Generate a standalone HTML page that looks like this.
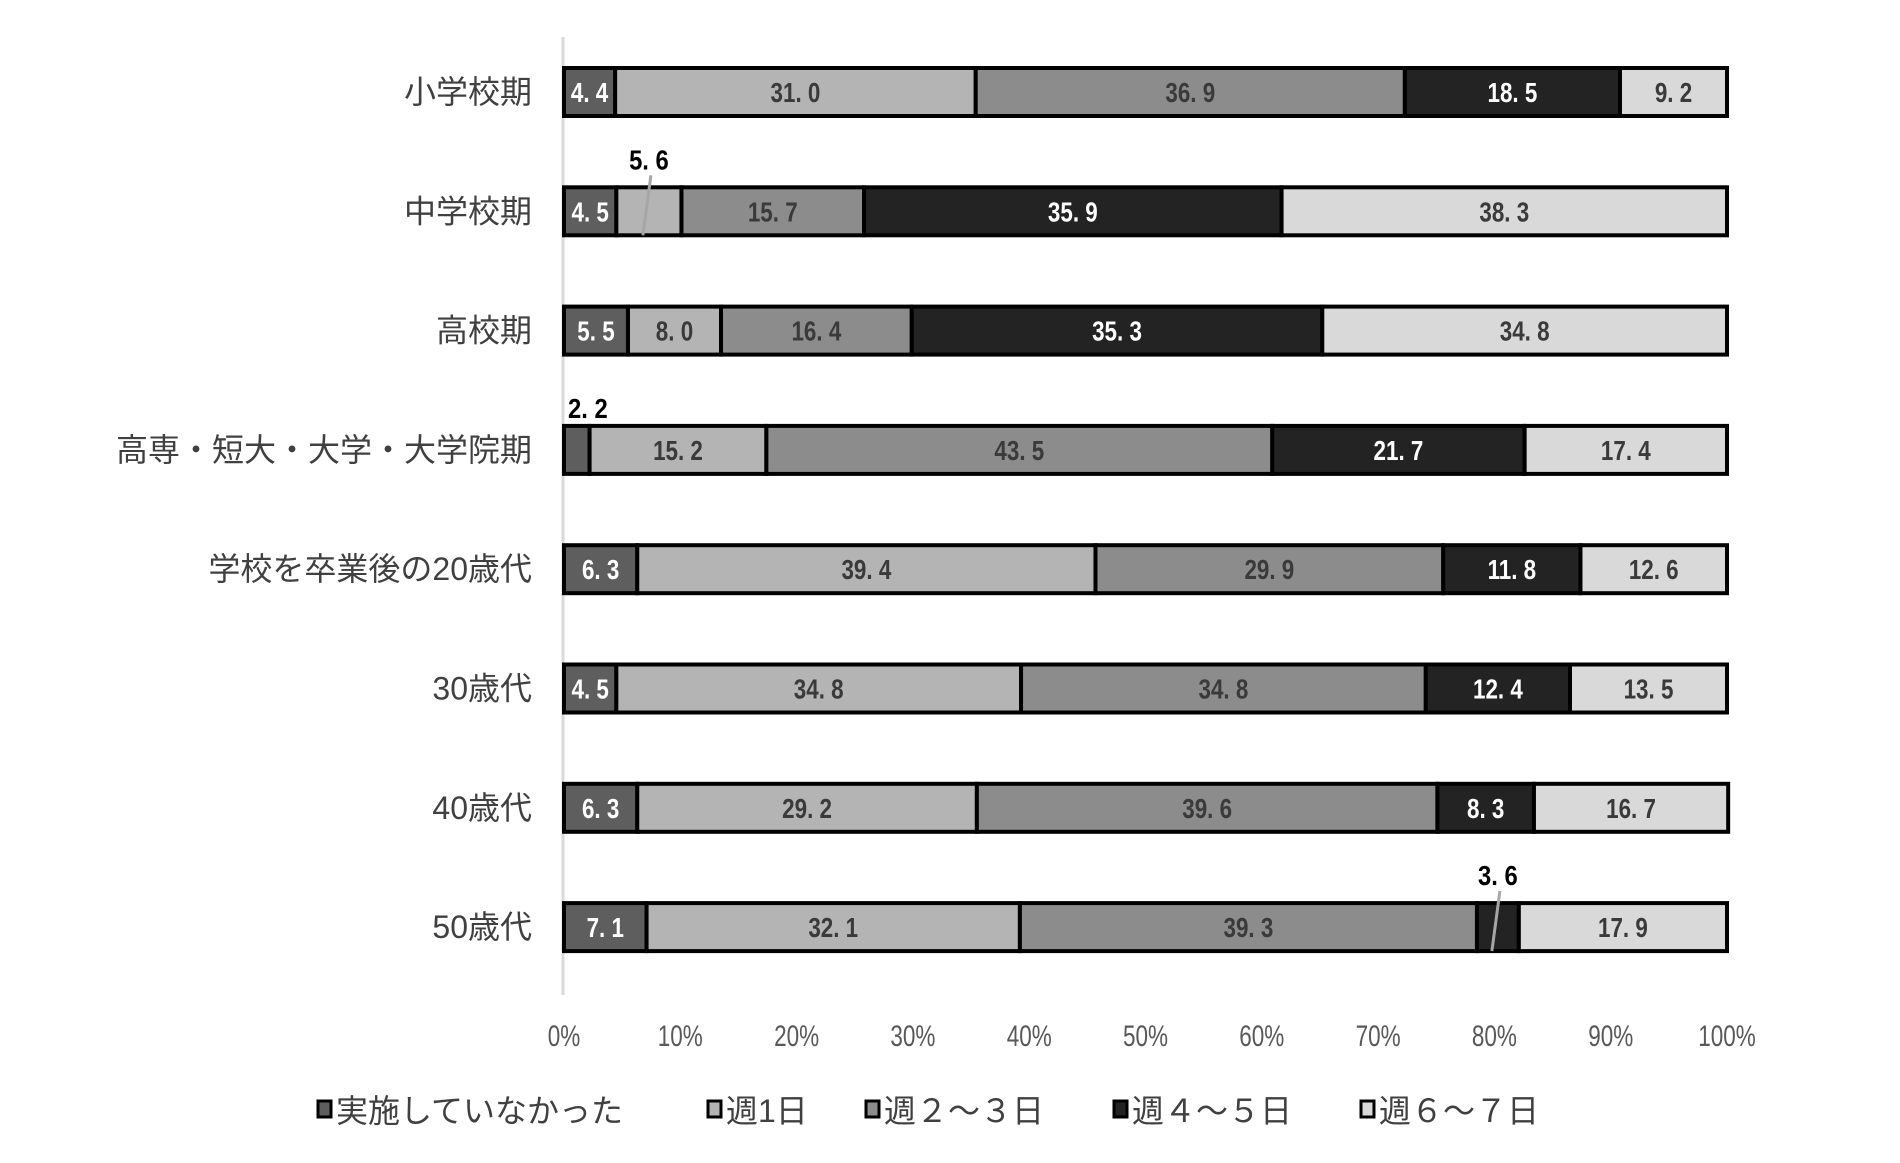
<!DOCTYPE html>
<html><head><meta charset="utf-8"><style>
body{margin:0;background:#fff}
svg{display:block}
text{font-family:"Liberation Sans","Noto Sans CJK JP",sans-serif}
</style></head><body>
<svg id="chart" width="1900" height="1163" viewBox="0 0 1900 1163" xmlns="http://www.w3.org/2000/svg"></svg>
<script>
const categories=["小学校期","中学校期","高校期","高専・短大・大学・大学院期","学校を卒業後の20歳代","30歳代","40歳代","50歳代"];
const seriesNames=["実施していなかった","週1日","週２～３日","週４～５日","週６～７日"];
const s0=[4.4,4.5,5.5,2.2,6.3,4.5,6.3,7.1];
const s1=[31.0,5.6,8.0,15.2,39.4,34.8,29.2,32.1];
const s2=[36.9,15.7,16.4,43.5,29.9,34.8,39.6,39.3];
const s3=[18.5,35.9,35.3,21.7,11.8,12.4,8.3,3.6];
const s4=[9.2,38.3,34.8,17.4,12.6,13.5,16.7,17.9];
const tickLabels=["0%","10%","20%","30%","40%","50%","60%","70%","80%","90%","100%"];
const callouts=[[1,1],[3,0],[7,3]];
const series=[s0,s1,s2,s3,s4];
const fills=["#5e5e5e","#b4b4b4","#8c8c8c","#232323","#d9d9d9"];
const txt=["#ffffff","#3a3a3a","#3a3a3a","#ffffff","#3a3a3a"];
const X0=564,X1=1727,Y0=92,DY=119.3,BH=48;
const xs=v=>X0+(X1-X0)*v/100;
const yc=i=>Y0+i*DY;
const svg=document.getElementById('chart');
const NS="http://www.w3.org/2000/svg";
function mk(tag,a,p){const e=document.createElementNS(NS,tag);for(const k in a)e.setAttribute(k,a[k]);(p||svg).appendChild(e);return e;}
function narrowText(str,x,y,size,fill,anchor,sx,weight){
  const t=mk('text',{transform:`translate(${x},${y}) scale(${sx},1)`,'font-size':size,fill:fill,'text-anchor':anchor,'font-weight':weight||'normal'});
  t.textContent=str;return t;}
// axis
const ax=mk('line',{x1:X0-1,y1:37,x2:X0-1,y2:995,stroke:'#d9d9d9','stroke-width':3});

categories.forEach((c,i)=>{
  const t=mk('text',{x:532,y:yc(i)+11,'font-size':32,fill:'#404040','text-anchor':'end'});
  t.textContent=c;
  
  const g=mk('g',{});
  
  let cum=0;
  series.forEach((s,k)=>{
    const v=s[i];const a=xs(cum),b=xs(cum+v);cum+=v;
    const r=mk('rect',{x:a,y:yc(i)-BH/2,width:b-a,height:BH,fill:fills[k],stroke:'#000','stroke-width':4},g);
    
    const out=callouts.some(c=>c[0]===i&&c[1]===k);
    const lbl=v.toFixed(1).replace('.','. ');
    if(out){
      const cx=(a+b)/2;
      if(k===0){
        const t=narrowText(lbl,a+4,yc(i)-BH/2-8,28,'#000','start',0.85,'bold');
        
      }else{
        const t=narrowText(lbl,cx,yc(i)-BH/2-18,28,'#000','middle',0.85,'bold');
        
        const l=mk('line',{x1:cx+2,y1:yc(i)-BH/2-12,x2:cx-6,y2:yc(i)+BH/2,stroke:'#a6a6a6','stroke-width':3});
        
      }
    }else{
      const t=narrowText(lbl,(a+b)/2,yc(i)+10,28,txt[k],'middle',0.8,'bold');
      
    }
  });
});
tickLabels.forEach((tl,j)=>{
  const t=narrowText(tl,xs(j*10),1046,30,'#595959','middle',0.75);
  
});
// legend
const legX=[318,708,866,1114,1361];
seriesNames.forEach((n,k)=>{
  const g=mk('g',{});
  
  mk('rect',{x:legX[k],y:1101,width:13,height:16,fill:fills[k],stroke:'#000','stroke-width':3},g);
  const t=mk('text',{x:legX[k]+18,y:1122,'font-size':32,fill:'#404040'},g);
  t.textContent=n;
});
</script>
</body></html>
